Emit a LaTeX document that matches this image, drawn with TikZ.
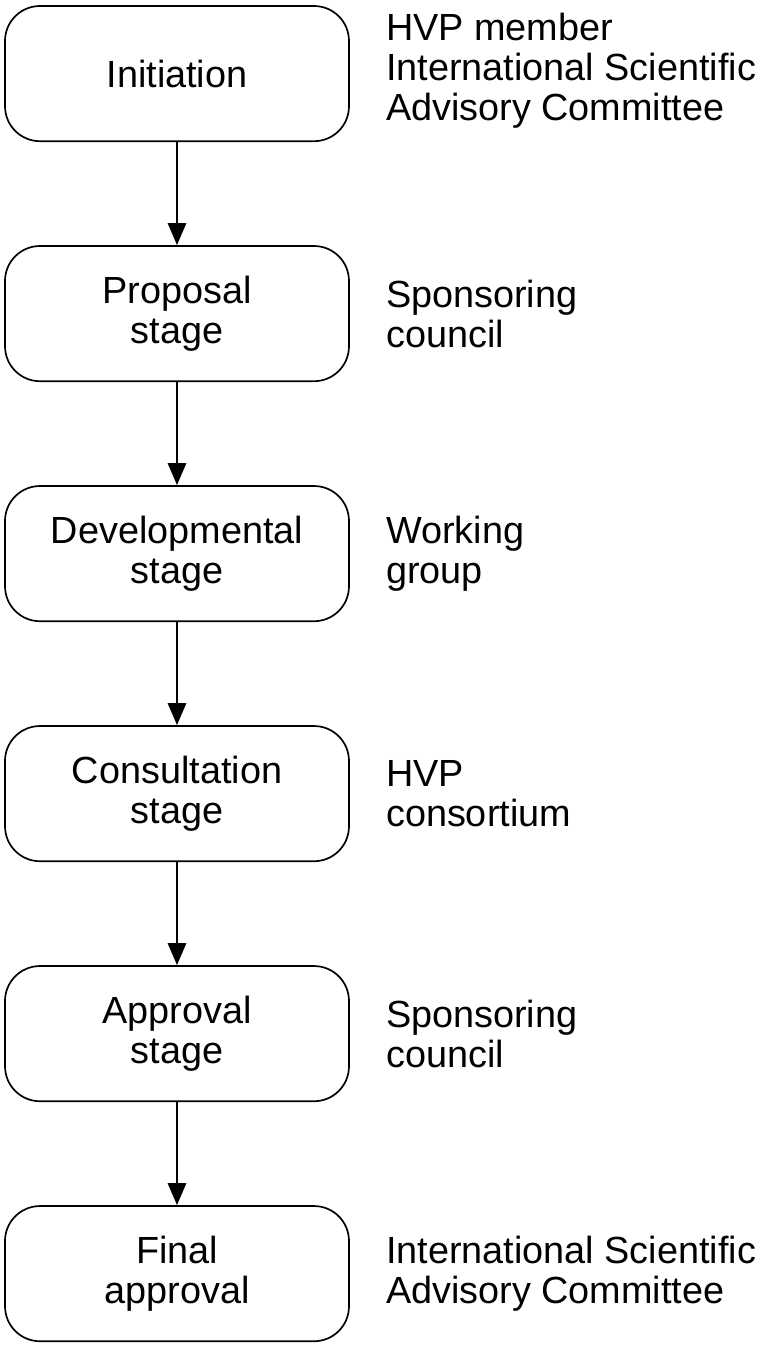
\documentclass[tikz,border=0pt]{standalone}
\usepackage{fontspec}
\setmainfont{Liberation Sans}
\usepackage{tikz}
\usetikzlibrary{arrows.meta,positioning}

\begin{document}
\begin{tikzpicture}[
    node distance=2.578cm,
    box/.style={rectangle, rounded corners=0.875cm, minimum width=8.6cm, minimum height=3.38cm, text centered, align=center, draw=black, line width=1.2pt, font=\fontsize{26.9}{28.45}\selectfont},
    who/.style={align=left, inner sep=0pt, font=\fontsize{26.9}{28.45}\selectfont},
    arrow/.style={-{Triangle[length=0.55cm, width=0.45cm]}, line width=2pt}
]
\useasboundingbox (0,0) rectangle (19.075,-33.675);

% Stages
\node[box] (init) at (4.425,-1.84) {Initiation};
\node[box, below=of init] (proposal) {Proposal\\stage};
\node[box, below=of proposal] (develop) {Developmental\\stage};
\node[box, below=of develop] (consult) {Consultation\\stage};
\node[box, below=of consult] (approve) {Approval\\stage};
\node[box, below=of approve] (final) {Final\\approval};

% Who is responsible
\node[who, right=0.9cm of init, yshift=0.08cm] (initwho) {HVP member\\International Scientific\\Advisory Committee};
\node[who, right=0.9cm of proposal] (proposalwho) {Sponsoring\\council};
\node[who, right=0.9cm of develop] (developwho) {Working\\group};
\node[who, right=0.9cm of consult] (consultwho) {HVP\\consortium};
\node[who, right=0.9cm of approve] (approvewho) {Sponsoring\\council};
\node[who, right=0.9cm of final] (finalwho) {International Scientific\\Advisory Committee};

% Arrows
\draw[arrow] (init) -- (proposal);
\draw[arrow] (proposal) -- (develop);
\draw[arrow] (develop) -- (consult);
\draw[arrow] (consult) -- (approve);
\draw[arrow] (approve) -- (final);

\end{tikzpicture}
\end{document}
